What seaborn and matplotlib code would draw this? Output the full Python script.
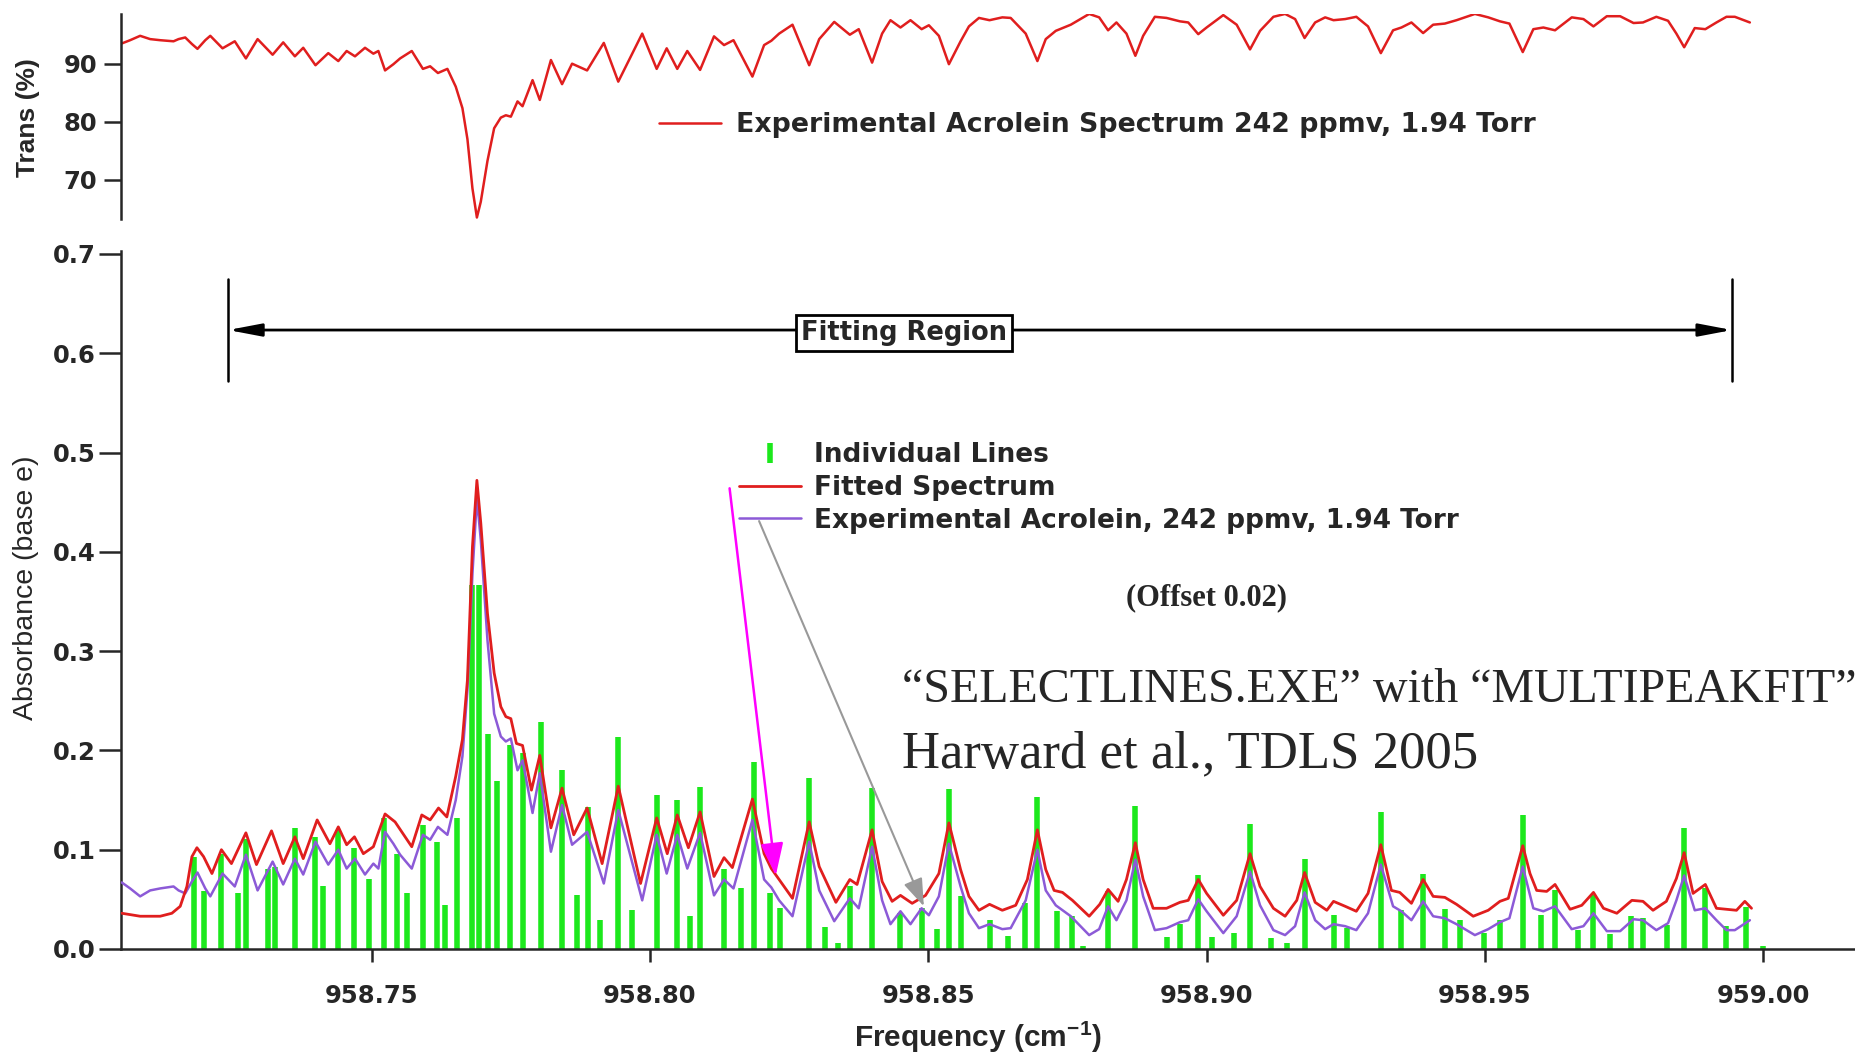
import numpy as np
import matplotlib
matplotlib.use("Agg")
import matplotlib.pyplot as plt
from matplotlib.lines import Line2D
from matplotlib.patches import FancyArrowPatch
import seaborn as sns

# ---------------------------------------------------------------------------
# Data (frequency in cm^-1, absorbance base e)
# ---------------------------------------------------------------------------
line_pos = [
    958.7180, 958.7198, 958.7230, 958.7259, 958.7275, 958.7313, 958.7326, 958.7362,
    958.7399, 958.7413, 958.7440, 958.7469, 958.7496, 958.7522, 958.7545, 958.7564,
    958.7592, 958.7617, 958.7632, 958.7654, 958.7681, 958.7692, 958.7709, 958.7726,
    958.7748, 958.7771, 958.7804, 958.7842, 958.7868, 958.7889, 958.7910, 958.7943,
    958.7968, 958.8012, 958.8049, 958.8072, 958.8090, 958.8133, 958.8163, 958.8186,
    958.8216, 958.8234, 958.8286, 958.8314, 958.8338, 958.8359, 958.8399, 958.8450,
    958.8488, 958.8516, 958.8537, 958.8559, 958.8610, 958.8644, 958.8674, 958.8696,
    958.8732, 958.8759, 958.8778, 958.8822, 958.8872, 958.8928, 958.8952, 958.8985,
    958.9010, 958.9050, 958.9078, 958.9115, 958.9145, 958.9176, 958.9228, 958.9252,
    958.9313, 958.9349, 958.9389, 958.9428, 958.9455, 958.9498, 958.9528, 958.9568,
    958.9600, 958.9626, 958.9668, 958.9695, 958.9725, 958.9762, 958.9784, 958.9827,
    958.9857, 958.9896, 958.9934, 958.9969, 959.0000,
]
line_int = [
    0.093, 0.058, 0.096, 0.056, 0.111, 0.081, 0.083, 0.122,
    0.113, 0.063, 0.120, 0.102, 0.071, 0.132, 0.096, 0.056,
    0.125, 0.108, 0.044, 0.132, 0.367, 0.367, 0.217, 0.169,
    0.205, 0.197, 0.229, 0.180, 0.054, 0.143, 0.029, 0.214,
    0.039, 0.155, 0.150, 0.033, 0.163, 0.081, 0.061, 0.188,
    0.056, 0.041, 0.172, 0.022, 0.006, 0.063, 0.162, 0.036,
    0.041, 0.020, 0.161, 0.053, 0.029, 0.013, 0.046, 0.153,
    0.038, 0.033, 0.003, 0.058, 0.144, 0.012, 0.025, 0.075,
    0.012, 0.016, 0.126, 0.011, 0.006, 0.091, 0.034, 0.021,
    0.138, 0.039, 0.076, 0.040, 0.029, 0.016, 0.029, 0.135,
    0.034, 0.059, 0.019, 0.054, 0.015, 0.033, 0.031, 0.024,
    0.122, 0.061, 0.023, 0.042, 0.003,
]

fit_freq = [
    958.7051, 958.7084, 958.7120, 958.7141, 958.7156, 958.7168, 958.7177, 958.7186,
    958.7198, 958.7213, 958.7230, 958.7248, 958.7274, 958.7293, 958.7320, 958.7341,
    958.7362, 958.7377, 958.7402, 958.7425, 958.7440, 958.7455, 958.7469, 958.7485,
    958.7503, 958.7524, 958.7542, 958.7572, 958.7590, 958.7605, 958.7620, 958.7635,
    958.7651, 958.7663, 958.7672, 958.7681, 958.7689, 958.7696, 958.7708, 958.7720,
    958.7732, 958.7741, 958.7750, 958.7760, 958.7771, 958.7787, 958.7802, 958.7822,
    958.7842, 958.7863, 958.7887, 958.7914, 958.7943, 958.7983, 958.8012, 958.8031,
    958.8049, 958.8069, 958.8090, 958.8115, 958.8133, 958.8148, 958.8184, 958.8205,
    958.8218, 958.8232, 958.8256, 958.8286, 958.8304, 958.8334, 958.8359, 958.8372,
    958.8399, 958.8417, 958.8435, 958.8450, 958.8471, 958.8495, 958.8519, 958.8537,
    958.8558, 958.8573, 958.8591, 958.8610, 958.8633, 958.8657, 958.8678, 958.8696,
    958.8711, 958.8726, 958.8741, 958.8759, 958.8789, 958.8808, 958.8823, 958.8841,
    958.8856, 958.8872, 958.8886, 958.8904, 958.8928, 958.8952, 958.8967, 958.8985,
    958.9000, 958.9030, 958.9054, 958.9078, 958.9096, 958.9120, 958.9141, 958.9162,
    958.9176, 958.9195, 958.9216, 958.9228, 958.9249, 958.9269, 958.9290, 958.9313,
    958.9332, 958.9347, 958.9368, 958.9389, 958.9407, 958.9428, 958.9449, 958.9479,
    958.9506, 958.9527, 958.9542, 958.9568, 958.9581, 958.9593, 958.9611, 958.9626,
    958.9653, 958.9674, 958.9695, 958.9713, 958.9737, 958.9764, 958.9784, 958.9802,
    958.9826, 958.9844, 958.9858, 958.9874, 958.9896, 958.9916, 958.9934, 958.9952,
    958.9967, 958.9979,
]
fit_abs = [
    0.036, 0.033, 0.033, 0.036, 0.043, 0.063, 0.093, 0.102,
    0.093, 0.076, 0.100, 0.086, 0.117, 0.085, 0.119, 0.086,
    0.113, 0.091, 0.130, 0.106, 0.123, 0.105, 0.113, 0.096,
    0.103, 0.136, 0.128, 0.103, 0.135, 0.130, 0.142, 0.133,
    0.174, 0.211, 0.271, 0.405, 0.472, 0.429, 0.338, 0.278,
    0.244, 0.234, 0.232, 0.207, 0.205, 0.160, 0.195, 0.122,
    0.162, 0.115, 0.142, 0.086, 0.164, 0.066, 0.132, 0.096,
    0.135, 0.102, 0.138, 0.073, 0.092, 0.082, 0.151, 0.096,
    0.081, 0.070, 0.051, 0.128, 0.083, 0.047, 0.070, 0.065,
    0.120, 0.068, 0.048, 0.054, 0.046, 0.054, 0.076, 0.127,
    0.080, 0.053, 0.039, 0.045, 0.039, 0.044, 0.070, 0.120,
    0.080, 0.059, 0.057, 0.049, 0.033, 0.045, 0.060, 0.048,
    0.070, 0.107, 0.070, 0.041, 0.041, 0.047, 0.049, 0.070,
    0.056, 0.034, 0.049, 0.096, 0.063, 0.041, 0.033, 0.049,
    0.077, 0.047, 0.039, 0.048, 0.043, 0.038, 0.056, 0.105,
    0.059, 0.057, 0.046, 0.070, 0.053, 0.052, 0.045, 0.033,
    0.039, 0.048, 0.051, 0.104, 0.076, 0.059, 0.058, 0.065,
    0.040, 0.044, 0.057, 0.041, 0.036, 0.049, 0.048, 0.039,
    0.048, 0.071, 0.097, 0.056, 0.065, 0.041, 0.040, 0.039,
    0.048, 0.041,
]

exp_freq = [
    958.7051, 958.7066, 958.7084, 958.7102, 958.7120, 958.7144, 958.7153, 958.7165,
    958.7177, 958.7187, 958.7201, 958.7210, 958.7232, 958.7254, 958.7274, 958.7295,
    958.7322, 958.7341, 958.7362, 958.7377, 958.7399, 958.7422, 958.7440, 958.7455,
    958.7470, 958.7488, 958.7503, 958.7512, 958.7524, 958.7539, 958.7551, 958.7572,
    958.7592, 958.7605, 958.7619, 958.7636, 958.7651, 958.7663, 958.7672, 958.7681,
    958.7689, 958.7696, 958.7708, 958.7720, 958.7732, 958.7741, 958.7750, 958.7762,
    958.7771, 958.7789, 958.7802, 958.7822, 958.7842, 958.7860, 958.7887, 958.7917,
    958.7943, 958.7986, 958.8012, 958.8030, 958.8049, 958.8067, 958.8090, 958.8115,
    958.8133, 958.8150, 958.8184, 958.8205, 958.8218, 958.8232, 958.8256, 958.8286,
    958.8304, 958.8331, 958.8359, 958.8375, 958.8399, 958.8417, 958.8432, 958.8450,
    958.8468, 958.8488, 958.8501, 958.8519, 958.8537, 958.8558, 958.8573, 958.8591,
    958.8610, 958.8633, 958.8648, 958.8675, 958.8696, 958.8711, 958.8729, 958.8756,
    958.8789, 958.8807, 958.8823, 958.8838, 958.8856, 958.8872, 958.8886, 958.8907,
    958.8928, 958.8952, 958.8967, 958.8985, 958.9000, 958.9030, 958.9054, 958.9078,
    958.9096, 958.9120, 958.9141, 958.9159, 958.9176, 958.9195, 958.9213, 958.9228,
    958.9249, 958.9269, 958.9290, 958.9313, 958.9335, 958.9350, 958.9368, 958.9389,
    958.9407, 958.9428, 958.9449, 958.9482, 958.9506, 958.9527, 958.9544, 958.9568,
    958.9587, 958.9605, 958.9626, 958.9656, 958.9677, 958.9695, 958.9719, 958.9743,
    958.9767, 958.9784, 958.9808, 958.9829, 958.9844, 958.9858, 958.9877, 958.9896,
    958.9916, 958.9934, 958.9949, 958.9976,
]
exp_abs = [
    0.067, 0.061, 0.053, 0.059, 0.061, 0.063, 0.059, 0.056,
    0.068, 0.077, 0.061, 0.053, 0.076, 0.063, 0.095, 0.059,
    0.088, 0.065, 0.091, 0.075, 0.108, 0.085, 0.100, 0.081,
    0.091, 0.075, 0.086, 0.081, 0.118, 0.106, 0.095, 0.081,
    0.115, 0.110, 0.123, 0.115, 0.150, 0.194, 0.261, 0.378,
    0.454, 0.412, 0.311, 0.237, 0.214, 0.209, 0.212, 0.180,
    0.190, 0.137, 0.177, 0.098, 0.145, 0.105, 0.118, 0.066,
    0.140, 0.049, 0.115, 0.076, 0.115, 0.081, 0.117, 0.054,
    0.070, 0.061, 0.130, 0.070, 0.062, 0.049, 0.033, 0.108,
    0.059, 0.028, 0.051, 0.041, 0.103, 0.049, 0.025, 0.038,
    0.025, 0.041, 0.034, 0.053, 0.106, 0.063, 0.036, 0.021,
    0.025, 0.020, 0.021, 0.049, 0.100, 0.059, 0.044, 0.033,
    0.014, 0.020, 0.043, 0.029, 0.049, 0.090, 0.053, 0.019,
    0.021, 0.027, 0.029, 0.050, 0.038, 0.016, 0.033, 0.078,
    0.044, 0.019, 0.014, 0.023, 0.057, 0.029, 0.020, 0.025,
    0.023, 0.019, 0.036, 0.085, 0.043, 0.038, 0.029, 0.048,
    0.033, 0.031, 0.025, 0.014, 0.020, 0.027, 0.031, 0.083,
    0.041, 0.038, 0.043, 0.020, 0.023, 0.036, 0.018, 0.018,
    0.030, 0.029, 0.019, 0.026, 0.049, 0.074, 0.039, 0.041,
    0.029, 0.019, 0.019, 0.029,
]

x_ticks = [958.75, 958.80, 958.85, 958.90, 958.95, 959.00]
abs_ticks = [0.0, 0.1, 0.2, 0.3, 0.4, 0.5, 0.6, 0.7]
trans_ticks = [70, 80, 90]
fit_region = (958.7242, 958.9944)

# Transmission (%) of the same measured spectrum: T = 100 * exp(-A)
exp_trans = 100.0 * np.exp(-np.asarray(exp_abs))

# ---------------------------------------------------------------------------
# Style
# ---------------------------------------------------------------------------
sns.set_style("ticks")
plt.rcParams["font.family"] = ["DejaVu Sans"]
plt.rcParams["mathtext.fontset"] = "custom"
plt.rcParams["mathtext.rm"] = "Liberation Sans:bold"
plt.rcParams["mathtext.it"] = "Liberation Sans:bold"
plt.rcParams["mathtext.bf"] = "Liberation Sans:bold"
plt.rcParams["axes.linewidth"] = 1.8

GREEN = "#1CE81C"
RED = "#E01E1E"
PURPLE = "#8C5AD7"
MAGENTA = "#FF00FF"
GRAY = "#999999"

W, H = 1856, 1052
fig = plt.figure(figsize=(W / 100, H / 100), dpi=100)
fig.patch.set_facecolor("white")

xlim = (958.70496, 959.01667)

# ---------------------------------------------------------------------------
# Top panel: transmission
# ---------------------------------------------------------------------------
ax_t = fig.add_axes([121 / W, 1 - 219 / H, 1 - 121 / W, 205 / H])
sns.lineplot(x=exp_freq, y=exp_trans, ax=ax_t, color=RED, linewidth=1.8,
             errorbar=None, legend=False)
ax_t.set_xlim(*xlim)
ax_t.set_ylim(63.25, 98.6)
ax_t.set_yticks(trans_ticks)
ax_t.set_xticks([])
for s in ("top", "right", "bottom"):
    ax_t.spines[s].set_visible(False)
ax_t.spines["left"].set_linewidth(1.8)
ax_t.tick_params(axis="y", direction="out", length=12, width=1.8, pad=5,
                 labelsize=17.5)
for lab in ax_t.get_yticklabels():
    lab.set_fontweight("bold")
ax_t.set_ylabel("Trans (%)", fontsize=19, fontweight="bold",
                family="Liberation Sans")
ax_t.yaxis.set_label_coords(-0.0536, 0.4927)
ax_t.yaxis.label.set_va("center")

top_handles = [Line2D([], [], color=RED, linewidth=1.8)]
ax_t.legend(top_handles, ["Experimental Acrolein Spectrum 242 ppmv, 1.94 Torr"],
            loc="upper left", bbox_to_anchor=(659 / W, 1 - 112.5 / H),
            bbox_transform=fig.transFigure, frameon=False, borderpad=0,
            borderaxespad=0, handlelength=2.31, handletextpad=0.57,
            prop={"family": "DejaVu Sans", "weight": "bold", "size": 19.3})

# ---------------------------------------------------------------------------
# Bottom panel: absorbance
# ---------------------------------------------------------------------------
ax = fig.add_axes([121 / W, 1 - 949 / H, 1 - 121 / W, 698 / H])
ax.vlines(line_pos, 0, line_int, colors=GREEN, linewidth=4.0, zorder=2)
sns.lineplot(x=exp_freq, y=exp_abs, ax=ax, color=PURPLE, linewidth=1.8,
             errorbar=None, legend=False, zorder=3)
sns.lineplot(x=fit_freq, y=fit_abs, ax=ax, color=RED, linewidth=2.0,
             errorbar=None, legend=False, zorder=4)

ax.set_xlim(*xlim)
ax.set_ylim(0, 0.703)
ax.set_xticks(x_ticks)
ax.set_xticklabels([f"{v:.2f}" for v in x_ticks])
ax.set_yticks(abs_ticks)
ax.set_yticklabels([f"{v:.1f}" for v in abs_ticks])
for s in ("top", "right"):
    ax.spines[s].set_visible(False)
ax.tick_params(axis="x", direction="out", length=9, width=1.8, pad=16,
               labelsize=17.5)
ax.tick_params(axis="y", direction="out", length=16, width=1.8, pad=2,
               labelsize=17.5)
for lab in ax.get_xticklabels() + ax.get_yticklabels():
    lab.set_fontweight("bold")

ax.set_xlabel(r"Frequency (cm$^{-1}$)", fontsize=21.5, fontweight="bold",
              family="Liberation Sans")
ax.xaxis.set_label_coords(0.494, -0.126)
ax.xaxis.label.set_va("center")
ax.set_ylabel("Absorbance (base e)", fontsize=20.5, family="Liberation Sans")
ax.yaxis.set_label_coords(-0.0548, 0.517)
ax.yaxis.label.set_va("center")

# Fitting region marker
y_bar = (0.572, 0.6747)
y_arrow = 0.6234
for xv in fit_region:
    ax.plot([xv, xv], y_bar, color="black", linewidth=1.8, zorder=5)
ax.add_patch(FancyArrowPatch((fit_region[0], y_arrow), (fit_region[1], y_arrow),
                             arrowstyle="<|-|>,head_length=2.0,head_width=0.38",
                             mutation_scale=10, color="black", linewidth=2.0,
                             shrinkA=0, shrinkB=0, zorder=5))
ax.text(958.8456, 0.6204, "Fitting Region", ha="center", va="center",
        fontsize=18.5, fontweight="bold", zorder=6,
        bbox=dict(boxstyle="square,pad=0.2", facecolor="white",
                  edgecolor="black", linewidth=2.0))

# Legend for the absorbance panel
bottom_handles = [
    Line2D([], [], color=GREEN, marker="|", linestyle="None", markersize=14,
           markeredgewidth=4),
    Line2D([], [], color=RED, linewidth=2.0),
    Line2D([], [], color=PURPLE, linewidth=1.8),
]
bottom_labels = ["Individual Lines", "Fitted Spectrum",
                 "Experimental Acrolein, 242 ppmv, 1.94 Torr"]
ax.legend(bottom_handles, bottom_labels, loc="upper left",
          bbox_to_anchor=(739 / W, 1 - 442 / H), bbox_transform=fig.transFigure,
          frameon=False, borderpad=0, borderaxespad=0, handlelength=2.35,
          handletextpad=0.5, labelspacing=0.26,
          prop={"family": "DejaVu Sans", "weight": "bold", "size": 19})

# Pointer arrows from the legend to the curves
ax.add_patch(FancyArrowPatch((958.8143, 0.464), (958.8226, 0.074),
                             arrowstyle="-|>,head_length=2.0,head_width=0.7",
                             mutation_scale=10, color=MAGENTA, linewidth=1.8,
                             shrinkA=0, shrinkB=0, zorder=6))
ax.add_patch(FancyArrowPatch((958.8196, 0.431), (958.8492, 0.043),
                             arrowstyle="-|>,head_length=1.7,head_width=0.6",
                             mutation_scale=10, color=GRAY, linewidth=1.5,
                             shrinkA=0, shrinkB=0, zorder=6))

# Annotations
ax.text(958.8999, 0.3535, "(Offset 0.02)", ha="center", va="center",
        fontsize=22, fontweight="bold", family="Liberation Serif")
ax.text(958.8452, 0.2487, "\u201cSELECTLINES.EXE\u201d with \u201cMULTIPEAKFIT\u201d",
        ha="left", va="baseline", fontsize=34.5, family="Liberation Serif")
ax.text(958.8452, 0.1833, "Harward et al., TDLS 2005",
        ha="left", va="baseline", fontsize=38, family="Liberation Serif")

fig.savefig("out.png", dpi=100, facecolor="white")
